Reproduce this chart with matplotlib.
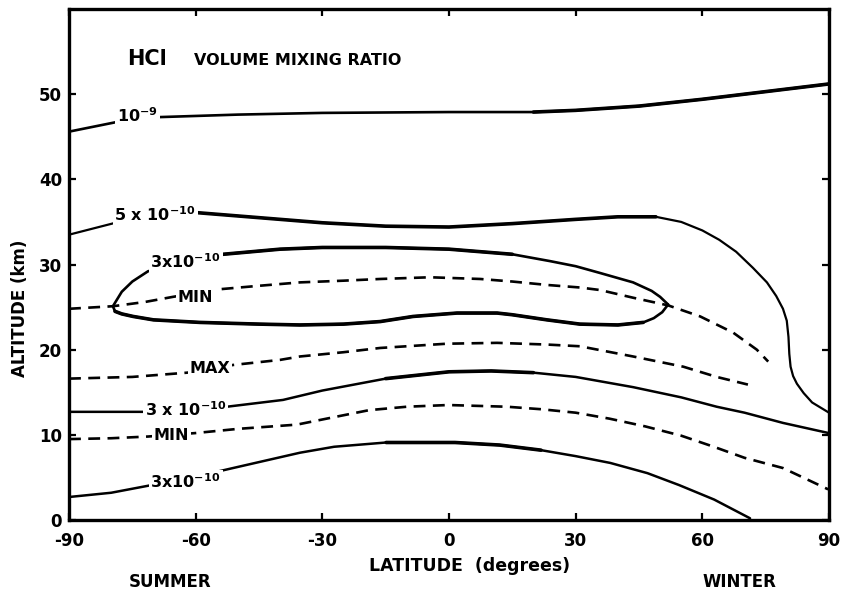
import matplotlib
matplotlib.use('Agg')
import matplotlib.pyplot as plt
import numpy as np

plt.rcParams['font.family'] = ['DejaVu Sans']
plt.rcParams['mathtext.fontset'] = 'dejavusans'
plt.rcParams['mathtext.default'] = 'bf'

# ---------------- data (latitude in degrees, altitude in km) ----------------
lat_1e9 = [-90, -78, -69, -50, -30, 0, 20, 30, 45, 60, 75, 90]
alt_1e9 = [45.6, 46.8, 47.3, 47.6, 47.8, 47.9, 47.9, 48.1, 48.6, 49.4, 50.3, 51.2]

lat_5e10 = [-90, -79, -70, -60, -45, -30, -15, 0, 15, 30, 40, 49, 55, 60, 64, 68,
            72, 75.3, 77.5, 79.1, 80.0, 80.4, 80.6, 80.9, 81.5, 82.4, 84, 86, 90]
alt_5e10 = [33.5, 34.9, 35.7, 36.1, 35.5, 34.9, 34.5, 34.4, 34.8, 35.3, 35.6, 35.6, 35.0, 34.0, 32.9, 31.5,
            29.6, 27.9, 26.3, 24.8, 23.4, 21.5, 19.5, 18.0, 16.9, 16.0, 14.9, 13.8, 12.6]

# upper closed 3x10^-10 contour, upper and lower branches
lat_oval_up = [-79.6, -77.5, -75, -71.3, -62, -53.5, -40, -30, -15, 0, 15, 23.9, 30, 35.8, 43.6, 48, 50, 51.9]
alt_oval_up = [25.1, 26.8, 28.0, 29.2, 30.5, 31.2, 31.8, 32.0, 32.0, 31.8, 31.2, 30.4, 29.8, 29.0, 27.9, 26.9, 26.2, 25.3]
lat_oval_lo = [51.9, 50.5, 48.5, 46, 40, 31, 23.2, 15, 11.4, 1.9, -8.5, -16.3, -25, -35.3, -45, -59, -70, -74.8, -77.5, -79.1, -79.6]
alt_oval_lo = [25.3, 24.4, 23.7, 23.2, 22.9, 23.0, 23.5, 24.1, 24.3, 24.3, 23.9, 23.3, 23.0, 22.9, 23.0, 23.2, 23.5, 23.9, 24.2, 24.5, 25.1]

lat_min_up = [-90, -79.6, -72, -65.4, -54.2, -45, -35.3, -25, -16.3, -4.5, 7.4, 15, 23.2, 31, 35.8, 43.6, 51.9, 59.5, 67.3, 72.9, 75.6]
alt_min_up = [24.8, 25.1, 25.6, 26.2, 27.1, 27.5, 27.9, 28.1, 28.3, 28.5, 28.3, 28.0, 27.6, 27.3, 27.0, 26.1, 25.2, 23.9, 22.0, 20.0, 18.6]

lat_max = [-90, -75, -62, -51.2, -40, -35.3, -25, -16.3, -0.5, 11.4, 23.2, 31, 43.6, 55.5, 63.4, 70.8]
alt_max = [16.6, 16.8, 17.3, 18.2, 18.8, 19.2, 19.7, 20.2, 20.7, 20.8, 20.6, 20.4, 19.2, 18.0, 16.8, 15.9]

lat_3e10_mid = [-90, -80, -71.3, -62, -52.6, -39.3, -30, -15, 0, 10, 20, 30, 43.6, 55, 63.4, 70, 79.1, 90]
alt_3e10_mid = [12.7, 12.7, 12.7, 12.9, 13.3, 14.1, 15.2, 16.6, 17.4, 17.5, 17.3, 16.8, 15.6, 14.4, 13.3, 12.6, 11.4, 10.2]

lat_min_lo = [-90, -80, -71.3, -60.2, -50, -36, -27, -18.9, -10, -0.2, 13.7, 22, 30, 38, 46.4, 55, 62.7, 70, 79.1, 89.8]
alt_min_lo = [9.5, 9.6, 9.8, 10.2, 10.7, 11.2, 12.1, 12.9, 13.3, 13.5, 13.3, 13.0, 12.6, 11.9, 11.0, 9.9, 8.6, 7.3, 6.1, 3.6]

lat_3e10_low = [-90, -80, -71.5, -62, -53.8, -45, -35.3, -27.2, -14.9, 1.4, 12, 21.8, 30, 38.2, 47, 54.5, 62.8, 71.3]
alt_3e10_low = [2.7, 3.2, 4.0, 4.9, 5.8, 6.8, 7.9, 8.6, 9.1, 9.1, 8.8, 8.2, 7.5, 6.7, 5.5, 4.1, 2.4, 0.2]

x_ticks = [-90, -60, -30, 0, 30, 60, 90]
y_ticks = [0, 10, 20, 30, 40, 50]

# ---------------- figure ----------------
W, H = 843, 592
fig = plt.figure(figsize=(W / 100, H / 100), dpi=100)
L, R, T, B = 69, 829, 9, 520
ax = fig.add_axes([L / W, 1 - B / H, (R - L) / W, (B - T) / H])
ax.set_xlim(-90, 90)
ax.set_ylim(0, 60)

thin = 1.6
thick = 2.6
dash_lw = 1.9
k = 'black'


def solid(lat, alt, thick_range=None, lw=thin):
    lat = np.asarray(lat, float)
    alt = np.asarray(alt, float)
    ax.plot(lat, alt, color=k, lw=lw, solid_capstyle='round', solid_joinstyle='round', zorder=2)
    if thick_range is not None:
        m = (lat >= thick_range[0]) & (lat <= thick_range[1])
        ax.plot(lat[m], alt[m], color=k, lw=thick, solid_capstyle='round',
                solid_joinstyle='round', zorder=2)


def dashed(lat, alt):
    ax.plot(lat, alt, color=k, lw=dash_lw, linestyle=(0, (4.5, 2.8)), zorder=2)


solid(lat_1e9, alt_1e9, (15, 90), lw=1.9)
solid(lat_5e10, alt_5e10, (-60, 49))
solid(lat_oval_up, alt_oval_up, (-53.5, 15), lw=1.9)
solid(lat_oval_lo, alt_oval_lo, (-79.1, 46), lw=1.9)
dashed(lat_min_up, alt_min_up)
dashed(lat_max, alt_max)
solid(lat_3e10_mid, alt_3e10_mid, (-20, 20), lw=1.8)
dashed(lat_min_lo, alt_min_lo)
solid(lat_3e10_low, alt_3e10_low, (-25, 25), lw=1.8)

# ---------------- contour labels ----------------
box = dict(boxstyle='square,pad=0.12', fc='white', ec='none')
lab_kw = dict(ha='center', va='center', fontsize=11.5, fontweight='bold', bbox=box, zorder=4)
ax.text(-73.7, 47.5, r'10$^{-9}$', **lab_kw)
ax.text(-69.6, 35.8, r'5 x 10$^{-10}$', **lab_kw)
ax.text(-62.4, 30.3, r'3x10$^{-10}$', **lab_kw)
ax.text(-60.0, 26.1, 'MIN', **lab_kw)
ax.text(-56.6, 17.8, 'MAX', **lab_kw)
ax.text(-62.4, 12.9, r'3 x 10$^{-10}$', **lab_kw)
ax.text(-65.8, 9.9, 'MIN', **lab_kw)
ax.text(-62.4, 4.5, r'3x10$^{-10}$', **lab_kw)

ax.text(-71.5, 54.1, 'HCl', ha='center', va='center', fontsize=15, fontweight='bold')
ax.text(-60.5, 54.0, 'VOLUME MIXING RATIO', ha='left', va='center', fontsize=11.5, fontweight='bold')

# ---------------- axes styling ----------------
for s in ax.spines.values():
    s.set_linewidth(2.4)
ax.set_xticks(x_ticks)
ax.set_yticks(y_ticks)
ax.set_xticklabels([str(v) for v in x_ticks])
ax.set_yticklabels([str(v) for v in y_ticks])
ax.tick_params(direction='in', length=5, width=1.6, top=True, right=True,
               labelsize=12, pad=5)
ax.tick_params(axis='x', pad=9)
for lbl in ax.get_xticklabels() + ax.get_yticklabels():
    lbl.set_fontweight('bold')

fig.text(470 / W, 1 - 566 / H, 'LATITUDE  (degrees)', ha='center', va='center',
         fontsize=12.5, fontweight='bold')
fig.text(20 / W, 1 - 308 / H, 'ALTITUDE (km)', ha='center', va='center', rotation=90,
         fontsize=12, fontweight='bold')
fig.text(170 / W, 1 - 582 / H, 'SUMMER', ha='center', va='center', fontsize=12, fontweight='bold')
fig.text(739 / W, 1 - 582 / H, 'WINTER', ha='center', va='center', fontsize=12, fontweight='bold')

fig.savefig('out.png', dpi=100, facecolor='white')
